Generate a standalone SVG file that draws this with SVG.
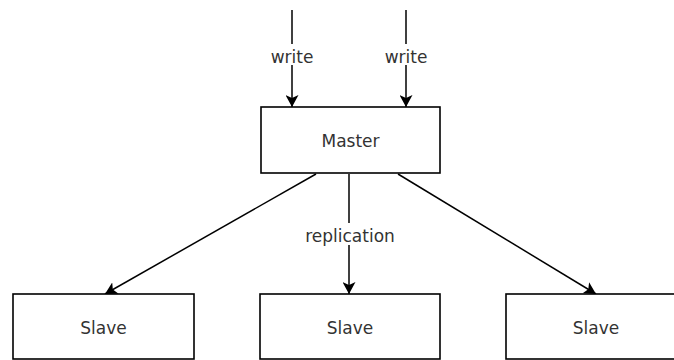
<svg xmlns="http://www.w3.org/2000/svg" width="674" height="360" viewBox="0 0 674 360">
  <style>
    .box { fill: #ffffff; stroke: #000000; stroke-width: 1.6; }
    .label { font-family: "DejaVu Sans", sans-serif; font-size: 17px; fill: #333333; text-anchor: middle; }
    .edge { fill: none; stroke: #000000; stroke-width: 1.5; }
    .gap { fill: #ffffff; }
  </style>
  <defs>
    <marker id="arrow" viewBox="0 0 12 13" refX="12" refY="6.5" markerWidth="12" markerHeight="13" markerUnits="userSpaceOnUse" orient="auto">
      <path d="M0,0 L12,6.5 L0,13 L3,6.5 Z" fill="#000000"/>
    </marker>
  </defs>
  <rect width="674" height="360" fill="#ffffff"/>

  <g id="connectors">
    <line class="edge" x1="292" y1="10" x2="292" y2="107" marker-end="url(#arrow)"/>
    <line class="edge" x1="406" y1="10" x2="406" y2="107" marker-end="url(#arrow)"/>
    <line class="edge" x1="316" y1="174" x2="105" y2="294" marker-end="url(#arrow)"/>
    <line class="edge" x1="349" y1="174" x2="349" y2="294" marker-end="url(#arrow)"/>
    <line class="edge" x1="398" y1="174" x2="596" y2="294" marker-end="url(#arrow)"/>
    <rect class="gap" x="266" y="44" width="52" height="21"/>
    <rect class="gap" x="380" y="44" width="52" height="21"/>
    <rect class="gap" x="300" y="223" width="99" height="22"/>
    <text class="label" x="292" y="63">write</text>
    <text class="label" x="406" y="63">write</text>
    <text class="label" x="350" y="242">replication</text>
  </g>

  <g id="master">
    <rect class="box" x="261" y="107" width="179" height="66"/>
    <text class="label" x="350.5" y="147">Master</text>
  </g>
  <g id="slave-1">
    <rect class="box" x="13" y="294" width="181" height="65"/>
    <text class="label" x="103.5" y="334">Slave</text>
  </g>
  <g id="slave-2">
    <rect class="box" x="260" y="294" width="180" height="65"/>
    <text class="label" x="350" y="334">Slave</text>
  </g>
  <g id="slave-3">
    <rect class="box" x="506" y="294" width="180" height="65"/>
    <text class="label" x="596" y="334">Slave</text>
  </g>
</svg>
